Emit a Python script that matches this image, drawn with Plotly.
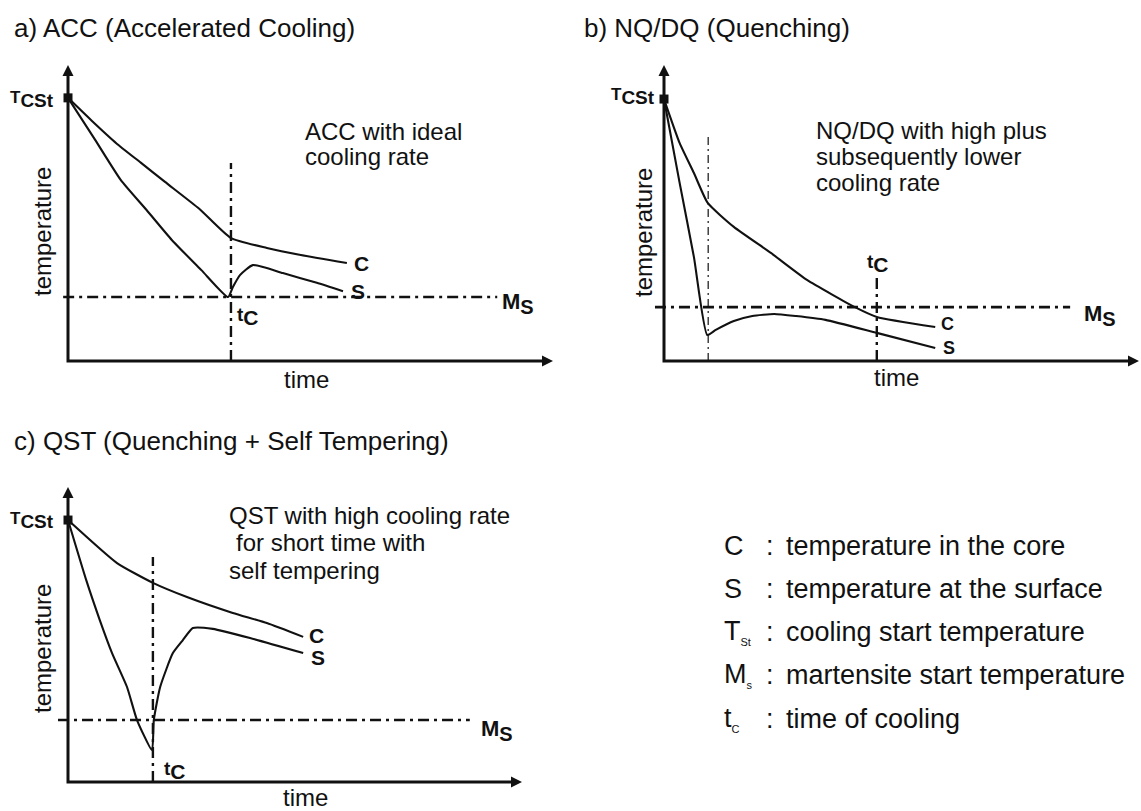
import plotly.graph_objects as go

W, H = 1141, 811
FONT = "Liberation Sans, Arial, sans-serif"

# ---------------- data (time / temperature in schematic units 0..10) ----------------
# a) ACC (Accelerated Cooling)
a_C_time = [0, 0.5, 1.0, 1.5, 2.0, 2.7, 3.36, 4.1, 4.8, 5.75]
a_C_temp = [8.89, 8.1, 7.35, 6.7, 6.05, 5.15, 4.15, 3.82, 3.58, 3.31]
a_S_time = [0, 0.56, 1.09, 1.62, 2.14, 2.75, 3.3, 3.40, 3.55, 3.81, 4.43, 5.13, 5.67]
a_S_temp = [8.89, 7.47, 6.11, 5.10, 4.09, 3.07, 2.16, 2.50, 2.91, 3.24, 2.97, 2.64, 2.36]
a_T_start = 8.89
a_Ms = 2.16
a_tc = 3.36

# b) NQ/DQ (Quenching)
b_C_time = [0, 0.33, 0.63, 0.92, 1.47, 2.25, 3.01, 4.02, 4.48, 5.71]
b_C_temp = [8.85, 7.36, 6.35, 5.34, 4.53, 3.65, 2.74, 1.82, 1.49, 1.15]
b_S_time = [0, 0.33, 0.63, 0.91, 1.09, 1.47, 1.86, 2.32, 2.78, 3.40, 4.48, 5.71]
b_S_temp = [8.85, 6.01, 3.51, 0.88, 1.05, 1.35, 1.52, 1.59, 1.52, 1.39, 0.95, 0.44]
b_T_start = 8.85
b_Ms = 1.82
b_quench_end = 0.93
b_tc = 4.48

# c) QST (Quenching + Self Tempering)
c_C_time = [0, 1.08, 1.87, 2.62, 3.63, 4.38, 5.18]
c_C_temp = [8.88, 7.42, 6.75, 6.27, 5.73, 5.39, 4.92]
c_S_time = [0, 0.40, 0.70, 0.97, 1.30, 1.52, 1.85, 1.89, 2.03, 2.31, 2.53, 2.75, 3.19, 4.01, 5.18]
c_S_temp = [8.88, 6.85, 5.49, 4.37, 3.22, 2.10, 1.08, 2.10, 3.22, 4.37, 4.81, 5.22, 5.19, 4.88, 4.37]
c_T_start = 8.88
c_Ms = 2.10
c_tc = 1.87

titles = ["a) ACC (Accelerated Cooling)", "b) NQ/DQ (Quenching)", "c) QST (Quenching + Self Tempering)"]
notes = [["ACC with ideal", "cooling rate"],
         ["NQ/DQ with high plus", "subsequently lower", "cooling rate"],
         ["QST with high cooling rate", " for short time with", "self tempering"]]
legend_symbols = ["C", "S", "T<sub><span style='font-size:11px'>St</span></sub>",
                  "M<sub><span style='font-size:11px'>s</span></sub>",
                  "t<sub><span style='font-size:11px'>C</span></sub>"]
legend_texts = ["temperature in the core", "temperature at the surface",
                "cooling start temperature", "martensite start temperature",
                "time of cooling"]
label_T = "T<sub><span style='font-size:19px'>CSt</span></sub>"
label_Ms = "M<sub><span style='font-size:20px'>S</span></sub>"
label_tc = "t<sub><span style='font-size:21px'>C</span></sub>"

# ---------------- layout geometry (pixels) ----------------
# origin x, origin y, arrow-tip x, arrow-tip y  (data 0..10 spans origin..tip)
frames = {1: (68, 361, 553, 65), 2: (664, 361, 1139, 65), 3: (68, 782, 522, 487)}


def P(xp, yp):
    return xp / W, 1 - yp / H


fig = go.Figure()
layout_axes = {}
for i, (ox, oy, tx, ty) in frames.items():
    sx = (tx - ox) / 10.0
    sy = (oy - ty) / 10.0
    xname = "xaxis" if i == 1 else f"xaxis{i}"
    yname = "yaxis" if i == 1 else f"yaxis{i}"
    layout_axes[xname] = dict(domain=[0, 1], range=[(0 - ox) / sx, (W - ox) / sx],
                              visible=False, anchor="y" if i == 1 else f"y{i}", fixedrange=True)
    layout_axes[yname] = dict(domain=[0, 1], range=[(oy - H) / sy, oy / sy],
                              visible=False, anchor="x" if i == 1 else f"x{i}", fixedrange=True)

fig.update_layout(**layout_axes)

BLACK = "#111111"
MSDASH = "11px,5px,3px,5px"
annotations = []


def ax_ids(i):
    return ("x", "y") if i == 1 else (f"x{i}", f"y{i}")


def add_line(i, xs, ys, width=2.0, dash=None, shape="linear"):
    xa, ya = ax_ids(i)
    fig.add_trace(go.Scatter(x=xs, y=ys, xaxis=xa, yaxis=ya, mode="lines",
                             line=dict(color=BLACK, width=width, dash=dash, shape=shape,
                                       smoothing=0.5 if shape == "spline" else None),
                             showlegend=False, hoverinfo="skip", cliponaxis=False))


def add_curve(i, xs, ys):
    add_line(i, xs, ys, width=2.1, shape="spline")


def add_text(i, x, y, text, size=21, xanchor="center", yanchor="middle"):
    xa, ya = ax_ids(i)
    annotations.append(dict(x=x, y=y, xref=xa, yref=ya, text=text,
                            showarrow=False, xanchor=xanchor, yanchor=yanchor,
                            font=dict(family=FONT, size=size, color=BLACK, weight="bold")))


def add_axes(i):
    xa, ya = ax_ids(i)
    add_line(i, [0, 0, 9.8], [9.7, 0, 0], width=3)
    fig.add_trace(go.Scatter(x=[0, 10], y=[10, 0], xaxis=xa, yaxis=ya, mode="markers",
                             marker=dict(symbol=["arrow-up", "arrow-right"], size=11, color=BLACK,
                                         line=dict(width=0)),
                             showlegend=False, hoverinfo="skip", cliponaxis=False))


def add_start(i, T):
    xa, ya = ax_ids(i)
    fig.add_trace(go.Scatter(x=[0], y=[T], xaxis=xa, yaxis=ya, mode="markers",
                             marker=dict(symbol="square", size=9, color=BLACK),
                             showlegend=False, hoverinfo="skip", cliponaxis=False))


# ---- panel a ----
add_axes(1)
add_line(1, [-0.1, 8.85], [a_Ms, a_Ms], width=2.6, dash=MSDASH)
add_line(1, [a_tc, a_tc], [0, 6.69], width=2.4, dash=MSDASH)
add_curve(1, a_C_time, a_C_temp)
add_curve(1, a_S_time, a_S_temp)
add_start(1, a_T_start)
add_text(1, 6.05, 3.28, "C")
add_text(1, 5.97, 2.36, "S")
add_text(1, 3.72, 1.5, label_tc, size=19)
add_text(1, 8.9, 1.95, label_Ms, size=22, xanchor="left")
add_text(1, -0.25, 8.85, label_T, size=17, xanchor="right")

# ---- panel b ----
add_axes(2)
add_line(2, [-0.19, 8.55], [b_Ms, b_Ms], width=2.6, dash=MSDASH)
add_line(2, [b_quench_end, b_quench_end], [0, 7.64], width=1.2, dash="8px,4px,2px,4px")
add_line(2, [b_tc, b_tc], [0, 2.84], width=2.4, dash=MSDASH)
add_curve(2, b_C_time, b_C_temp)
add_curve(2, b_S_time, b_S_temp)
add_start(2, b_T_start)
add_text(2, 5.97, 1.24, "C", size=18)
add_text(2, 6.0, 0.45, "S", size=18)
add_text(2, 4.5, 3.3, label_tc, size=19)
add_text(2, 8.8, 1.55, label_Ms, size=22, xanchor="left")
add_text(2, -0.15, 8.95, label_T, size=17, xanchor="right")

# ---- panel c ----
add_axes(3)
add_line(3, [-0.22, 8.85], [c_Ms, c_Ms], width=2.6, dash=MSDASH)
add_line(3, [c_tc, c_tc], [0, 7.63], width=2.4, dash=MSDASH)
add_curve(3, c_C_time, c_C_temp)
add_curve(3, c_S_time, c_S_temp)
add_start(3, c_T_start)
add_text(3, 5.47, 4.98, "C")
add_text(3, 5.5, 4.22, "S")
add_text(3, 2.36, 0.4, label_tc, size=19)
add_text(3, 9.05, 1.75, label_Ms, size=22, xanchor="left")
add_text(3, -0.27, 8.85, label_T, size=17, xanchor="right")


# ---------------- plain texts (paper / pixel positions) ----------------
def ptext(xp, yp, text, size, xanchor="left", angle=0):
    x, y = P(xp, yp)
    annotations.append(dict(x=x, y=y, xref="paper", yref="paper", text=text, showarrow=False,
                            xanchor=xanchor, yanchor="middle", textangle=angle,
                            font=dict(family=FONT, size=size, color=BLACK)))


title_pos = [(12, 28), (582, 28), (12, 441)]
for (xp, yp), t in zip(title_pos, titles):
    ptext(xp, yp, t, 26)

note_pos = [(303, [132, 157]), (814, [130, 157, 183]), (227, [515, 542, 570])]
for (xp, ys), lines in zip(note_pos, notes):
    for yp, line in zip(ys, lines):
        off = 7 if line.startswith(" ") else 0
        ptext(xp + off, yp, line.strip(), 24)

for xp, yp in [(42, 232), (643, 233), (42, 649)]:
    ptext(xp, yp, "temperature", 24, xanchor="center", angle=-90)
for xp, yp in [(306, 379), (896, 377), (305, 797)]:
    ptext(xp, yp, "time", 24, xanchor="center")

legend_rows = [546, 589, 632, 675, 719]
for yp, sym, txt in zip(legend_rows, legend_symbols, legend_texts):
    ptext(722, yp, sym, 27)
    ptext(764, yp, ":", 27)
    ptext(784, yp, txt, 27)

fig.update_layout(width=W, height=H, margin=dict(l=0, r=0, t=0, b=0),
                  paper_bgcolor="white", plot_bgcolor="rgba(0,0,0,0)",
                  showlegend=False, annotations=annotations)

fig.write_html("out.html", config={"displayModeBar": False})
